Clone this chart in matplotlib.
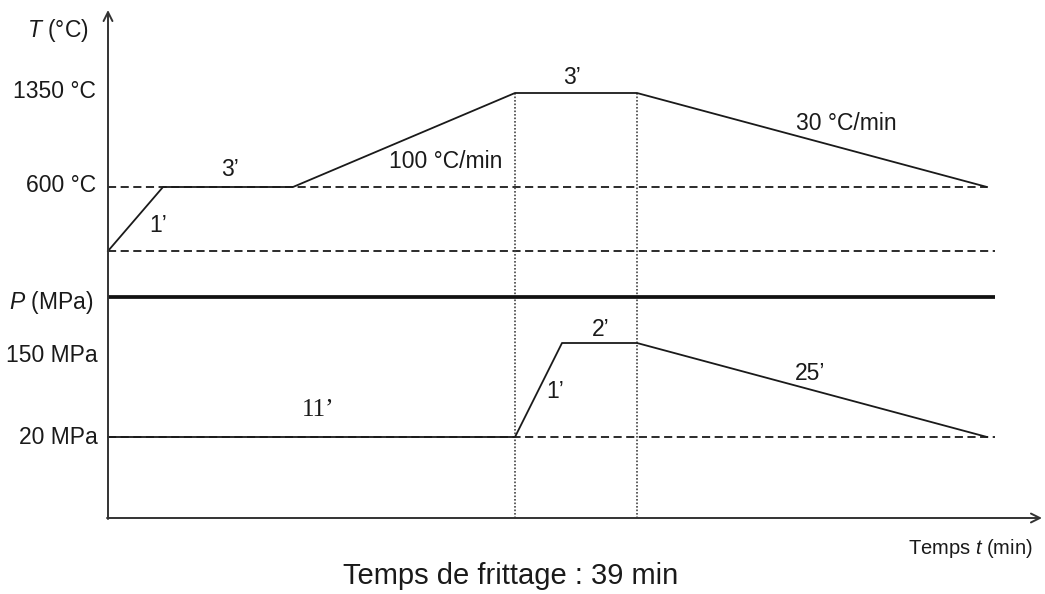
"""Sintering cycle schematic: temperature and pressure versus time."""

import matplotlib.pyplot as plt
import numpy as np

plt.rcParams["font.family"] = ["Liberation Sans", "DejaVu Sans"]
plt.rcParams["mathtext.fontset"] = "custom"
plt.rcParams["mathtext.rm"] = "Liberation Sans"
plt.rcParams["mathtext.it"] = "Liberation Sans:italic"

# process data: cumulative time (min), temperature (°C), pressure (MPa)
temp_time = [0, 1, 4, 11, 14, 39]
temp_vals = [20, 600, 600, 1350, 1350, 600]
pres_time = [0, 11, 12, 14, 39]
pres_vals = [20, 20, 150, 150, 20]
temp_ticks = [1350, 600]
pres_ticks = [150, 20]
temp_tick_labels = ["1350 °C", "600 °C"]
pres_tick_labels = ["150 MPa", "20 MPa"]

# schematic layout (drawing is not to scale) -> pixel positions
T_ANCHOR = [0, 1, 4, 11, 12, 14, 39]
X_ANCHOR = [108, 163, 293, 515, 562, 637, 987]
TEMP_ANCHOR = [20, 600, 1350]
TEMP_Y = [251, 187, 93]
PRES_ANCHOR = [20, 150]
PRES_Y = [437, 343]
X0, Y0, X_END, LINE_END = 108, 518, 1042, 995
P_BAR_Y = 297
INK = "#1a1a1a"


def tx(t):
    return np.interp(t, T_ANCHOR, X_ANCHOR)


def ty(v):
    return np.interp(v, TEMP_ANCHOR, TEMP_Y)


def py(v):
    return np.interp(v, PRES_ANCHOR, PRES_Y)


fig = plt.figure(figsize=(10.45, 5.94), dpi=100)
ax = fig.add_axes([0, 0, 1, 1])
ax.set_xlim(0, 1045)
ax.set_ylim(594, 0)
ax.axis("off")

# axes with open arrow heads
arrow = dict(arrowstyle="->", lw=1.4, color="#333333", mutation_scale=16,
             shrinkA=0, shrinkB=0)
ax.annotate("", xy=(X0, 10), xytext=(X0, Y0 + 1), arrowprops=arrow)
ax.annotate("", xy=(X_END, Y0), xytext=(X0 - 1, Y0), arrowprops=arrow)

dash = dict(color=INK, lw=1.3, dashes=(4.5, 2.5))
# guide lines
ax.plot([X0, tx(temp_time[-1])], [ty(600)] * 2, **dash)
ax.plot([X0, LINE_END], [ty(temp_vals[0])] * 2, **dash)
ax.plot([X0, LINE_END], [py(pres_vals[0])] * 2, **dash)
for t in (temp_time[3], temp_time[4]):
    ax.plot([tx(t)] * 2, [ty(1350), Y0], color="#444444", lw=1.2, ls=(0, (1, 1.1)))

# separator between temperature and pressure panels
ax.plot([X0, LINE_END], [P_BAR_Y] * 2, color="#111111", lw=2.7, solid_capstyle="butt")

# cycles
ax.plot(tx(temp_time), ty(temp_vals), color=INK, lw=1.3)
ax.plot(tx(pres_time), py(pres_vals), color=INK, lw=1.3)

fs = 16.5
for v, lab in zip(temp_ticks, temp_tick_labels):
    ax.text(96, ty(v) - 2, lab, ha="right", va="center", fontsize=fs, color=INK)
for v, lab in zip(pres_ticks, pres_tick_labels):
    ax.text(98, py(v) + (13 if v == 150 else 1), lab, ha="right", va="center",
            fontsize=fs, color=INK)
ax.text(89, 30, r"$T$ (°C)", ha="right", va="center", fontsize=fs, color=INK)
ax.text(93, 303, r"$P$ (MPa)", ha="right", va="center", fontsize=fs, color=INK)

segment_labels = [
    ("1’", 158, 226), ("3’", 230, 170), ("100 °C/min", 446, 161),
    ("3’", 572, 78), ("30 °C/min", 846, 124), ("2’", 601, 329),
    ("1’", 555, 392), ("25’", 810, 373),
]
for lab, x, y in segment_labels:
    ax.text(x, y, lab, ha="center", va="center", fontsize=fs, color=INK)
ax.text(318, 410, "11’", ha="center", va="center", fontsize=18, color=INK,
        family="Liberation Serif")

ax.text(1033, 549, r"Temps $t$ (min)", ha="right", va="center", fontsize=14.5,
        color=INK)
ax.text(511, 576, "Temps de frittage : 39 min", ha="center", va="center",
        fontsize=21, color=INK)

fig.savefig("out.png", dpi=100)
